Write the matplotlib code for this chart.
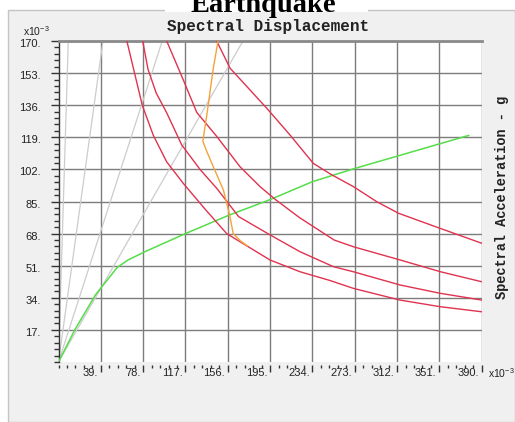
import matplotlib
matplotlib.use("Agg")
import matplotlib.pyplot as plt
import matplotlib.transforms as mtransforms
from matplotlib.patches import Rectangle
from matplotlib.ticker import FixedLocator, MultipleLocator

plt.rcParams['font.family'] = ['Liberation Sans', 'DejaVu Sans']

# ==== DATA (units of 1e-3) ====
X_TICKS = [39, 78, 117, 156, 195, 234, 273, 312, 351, 390]
Y_TICKS = [17, 34, 51, 68, 85, 102, 119, 136, 153, 170]

# radial period lines: spectral displacement where they reach Sa = 170
PERIOD_SD_TOP = [9.0, 41.0, 95.6, 170.0]
PERIOD_SA_TOP = 170.0

# capacity curve
cap_sd = [0, 15, 34, 54, 64, 80, 117, 156, 195, 234, 273, 312, 351, 378]
cap_sa = [0, 17, 35.5, 50, 54, 58.5, 68, 77.5, 86, 95.5, 102.5, 109, 115.5, 120]

# demand spectra
dem1_sd = [63, 70.5, 77.2, 87.4, 99.7, 115, 135, 155, 195, 222.6, 250, 271.7, 314.7, 351.6, 390]
dem1_sa = [170, 152, 136, 120, 106, 94.6, 81, 68, 54, 47.8, 43.2, 39, 32.8, 29.3, 26.6]

dem2_sd = [77.6, 82.5, 90, 99.7, 113.5, 130.4, 145.8, 166, 195, 222.6, 253.3, 271.7, 314.7, 351.6, 390]
dem2_sa = [170, 155, 142.5, 132, 115, 102, 92, 77, 67.3, 58.4, 50.5, 47.8, 40.8, 36.4, 32.8]

dem3_sd = [99.7, 115, 127.4, 145.8, 167.3, 185.7, 200, 222, 254, 272, 315, 352, 390]
dem3_sa = [170, 149.4, 132.2, 119.5, 103.4, 92.9, 86, 76.5, 64.6, 61, 54, 47.8, 42.5]

dem4_sd = [145.8, 158.1, 191.9, 213.4, 234.8, 251, 271.7, 293.3, 313.2, 351.6, 390]
dem4_sa = [170, 155.6, 134.4, 120.2, 105.2, 99.4, 92.9, 84.9, 78.8, 70.8, 62.9]

# performance point trace
perf_sd = [147, 142.5, 137, 133, 137, 152, 158, 161, 168, 174]
perf_sa = [170, 155, 132, 117, 111, 91, 77, 68, 64, 61.5]

# ==== FIGURE ====
W, H = 515, 422
fig = plt.figure(figsize=(W / 100, H / 100), dpi=100, facecolor='white')

# grey dialog panel behind everything
fig.patches.append(Rectangle((8 / W, 0), 1 - 8 / W, 1 - 10 / H, transform=fig.transFigure,
                             facecolor='#f0f0f0', edgecolor='#c4c4c4', lw=1, zorder=-3))
fig.patches.append(Rectangle((165 / W, 1 - 12 / H), 203 / W, 12 / H, transform=fig.transFigure,
                             facecolor='white', edgecolor='none', zorder=-2))

ax = fig.add_axes([58.5 / W, 1 - 362 / H, (481.7 - 58.5) / W, (362 - 41) / H])
ax.set_facecolor('white')
ax.set_xlim(0, 390)
ax.set_ylim(0, 170)

for sd in PERIOD_SD_TOP:
    ax.plot([0, sd], [0, PERIOD_SA_TOP], color='#cccccc', lw=0.9, zorder=2)

ax.plot(cap_sd, cap_sa, color='#55dd4a', lw=1.1, zorder=3)
for sd, sa in [(dem1_sd, dem1_sa), (dem2_sd, dem2_sa), (dem3_sd, dem3_sa), (dem4_sd, dem4_sa)]:
    ax.plot(sd, sa, color='#e0334f', lw=1.0, zorder=4)
ax.plot(perf_sd, perf_sa, color='#f5a23a', lw=1.0, zorder=5)

# ticks / grid
ax.xaxis.set_major_locator(FixedLocator(X_TICKS))
ax.yaxis.set_major_locator(FixedLocator(Y_TICKS))
ax.xaxis.set_minor_locator(MultipleLocator(7.8))
ax.yaxis.set_minor_locator(MultipleLocator(3.4))
ax.set_xticklabels([f"{v:g}." for v in X_TICKS])
ax.set_yticklabels([f"{v:g}." for v in Y_TICKS])
ax.grid(which='major', color='#7c7c7c', lw=1.0)
ax.set_axisbelow(True)

ax.tick_params(axis='x', which='major', direction='out', length=5, width=1, color='#333333',
               labelsize=8, labelcolor='#222222', pad=-3)
ax.tick_params(axis='x', which='minor', direction='out', length=2.5, width=1, color='#333333')
ax.tick_params(axis='y', which='major', direction='out', length=5.8, width=1, color='#333333',
               labelsize=8, labelcolor='#222222', pad=7)
ax.tick_params(axis='y', which='minor', direction='out', length=3.5, width=1, color='#333333')

ax.spines['bottom'].set_position(('outward', 2.2))
ax.spines['bottom'].set_visible(False)
ax.spines['right'].set_visible(False)
ax.spines['left'].set_color('#333333')
ax.spines['left'].set_linewidth(1.0)
ax.spines['top'].set_color('#8a8a8a')
ax.spines['top'].set_linewidth(2.0)

shift_x = mtransforms.ScaledTranslation(-2 / 72, 0, fig.dpi_scale_trans)
for lab in ax.get_xticklabels():
    lab.set_horizontalalignment('right')
    lab.set_transform(lab.get_transform() + shift_x)
shift_y = mtransforms.ScaledTranslation(0, -1.5 / 72, fig.dpi_scale_trans)
for lab in ax.get_yticklabels():
    lab.set_transform(lab.get_transform() + shift_y)

# texts
fig.text(263.5 / W, 1 - 12 / H, 'Earthquake', ha='center', va='baseline',
         fontsize=20.5, fontweight='bold', family='Liberation Serif', zorder=3)
fig.text(268 / W, 1 - 27 / H, 'Spectral Displacement', ha='center', va='center',
         fontsize=11.5, fontweight='bold', family='Liberation Mono', color='#222222')
fig.text(502 / W, 1 - 197 / H, 'Spectral Acceleration - g', ha='center', va='center',
         rotation=90, fontsize=9.8, fontweight='bold', family='Liberation Mono', color='#222222')
fig.text(23 / W, 1 - 31 / H, r'x10$^{\mathdefault{-3}}$', ha='left', va='center',
         fontsize=7.5, color='#222222')
fig.text(488 / W, 1 - 373 / H, r'x10$^{\mathdefault{-3}}$', ha='left', va='center',
         fontsize=7.5, color='#222222')

fig.savefig('out.png', dpi=100, facecolor='white')
